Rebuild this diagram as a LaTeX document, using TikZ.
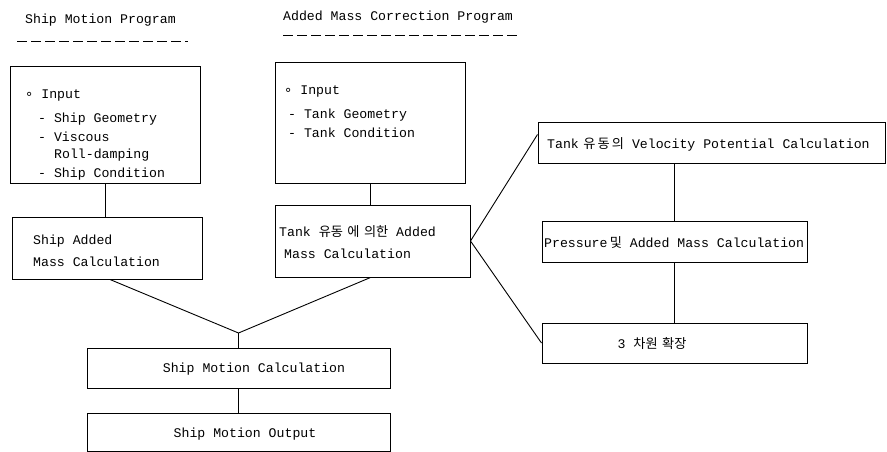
\documentclass[tikz,border=0pt]{standalone}
\usepackage{fontspec}
\setmainfont{Liberation Mono}
\newfontfamily\kr{Noto Sans CJK KR}
\newfontfamily\dv{DejaVu Sans}
\newcommand{\bul}{{\dv ∘}}
\begin{document}
\begin{tikzpicture}[x=1pt,y=-1pt,
  font=\fontsize{13.2}{15}\selectfont,
  box/.style={draw,line width=1pt,inner sep=0pt,rectangle},
  txt/.style={anchor=base west,inner sep=0pt},
  ctxt/.style={anchor=base,inner sep=0pt},
  conn/.style={line width=0.9pt},
  dashrule/.style={line width=1pt,dash pattern=on 10pt off 4pt}]
\useasboundingbox (0,0) rectangle (887,452);
% titles
\node[txt] (t1) at (25,24) {Ship Motion Program};
\node[txt] (t2) at (283,21) {Added Mass Correction Program};
\coordinate (d1a) at (17,42); \coordinate (d1b) at (188,42);
\coordinate (d2a) at (283,36); \coordinate (d2b) at (518,36);
\draw[dashrule] (d1a) -- (d1b);
\draw[dashrule] (d2a) -- (d2b);
% boxes
\node[box,minimum width=190pt,minimum height=116pt] (A) at (105,125) {};
\node[box,minimum width=190pt,minimum height=62pt] (B) at (107,248) {};
\node[box,minimum width=190pt,minimum height=120pt] (C) at (370,123) {};
\node[box,minimum width=195pt,minimum height=72pt] (D) at (372.5,241) {};
\node[box,minimum width=347pt,minimum height=41pt] (E) at (711.5,142.5) {};
\node[box,minimum width=265pt,minimum height=41pt] (F) at (674.5,241.5) {};
\node[box,minimum width=265pt,minimum height=40pt] (G) at (674.5,343) {};
\node[box,minimum width=303pt,minimum height=40pt] (H) at (238.5,368) {};
\node[box,minimum width=303pt,minimum height=38pt] (I) at (238.5,432) {};
% box A text
\node[txt] (a1) at (25,99) {\bul{} Input};
\node[txt] (a2) at (38,123) {- Ship Geometry};
\node[txt] (a3) at (38,141) {- Viscous};
\node[txt] (a4) at (54,158) {Roll-damping};
\node[txt] (a5) at (38,177) {- Ship Condition};
% box B text
\node[txt] (b1) at (33,244) {Ship Added};
\node[txt] (b2) at (33,266) {Mass Calculation};
% box C text
\node[txt] (c1) at (284,95) {\bul{} Input};
\node[txt] (c2) at (288,118) {- Tank Geometry};
\node[txt] (c3) at (288,137) {- Tank Condition};
% box D text
\node[txt] (d1) at (279,236) {Tank {\kr 유동\,\,에\,\,의한} Added};
\node[txt] (d2) at (284,258) {Mass Calculation};
% right boxes text
\node[txt] (e1) at (547,148) {Tank\,\,{\kr 유\,동\,의} Velocity Potential Calculation};
\node[txt] (f1) at (544,247) {Pressure\,{\kr 및} Added Mass Calculation};
\node[ctxt] (g1) at (652,348) {3 {\kr 차원\,\,확장}};
\node[ctxt] (h1) at (254,372) {Ship Motion Calculation};
\node[ctxt] (i1) at (245,437) {Ship Motion Output};
% connectors
\coordinate (J) at (238.5,333);
\draw[conn] (A.south) -- (A.south |- B.north);
\draw[conn] (C.south) -- (C.south |- D.north);
\draw[conn] ([xshift=3pt]B.south) -- (J) -- ([xshift=-2pt]D.south);
\draw[conn] (J) -- (H.north);
\draw[conn] (H.south) -- (I.north);
\draw[conn] (D.east) -- ([yshift=8pt]E.west);
\draw[conn] (D.east) -- (G.west);
\draw[conn] (F.north) -- (F.north |- E.south);
\draw[conn] (F.south) -- (G.north);
\end{tikzpicture}
\end{document}
